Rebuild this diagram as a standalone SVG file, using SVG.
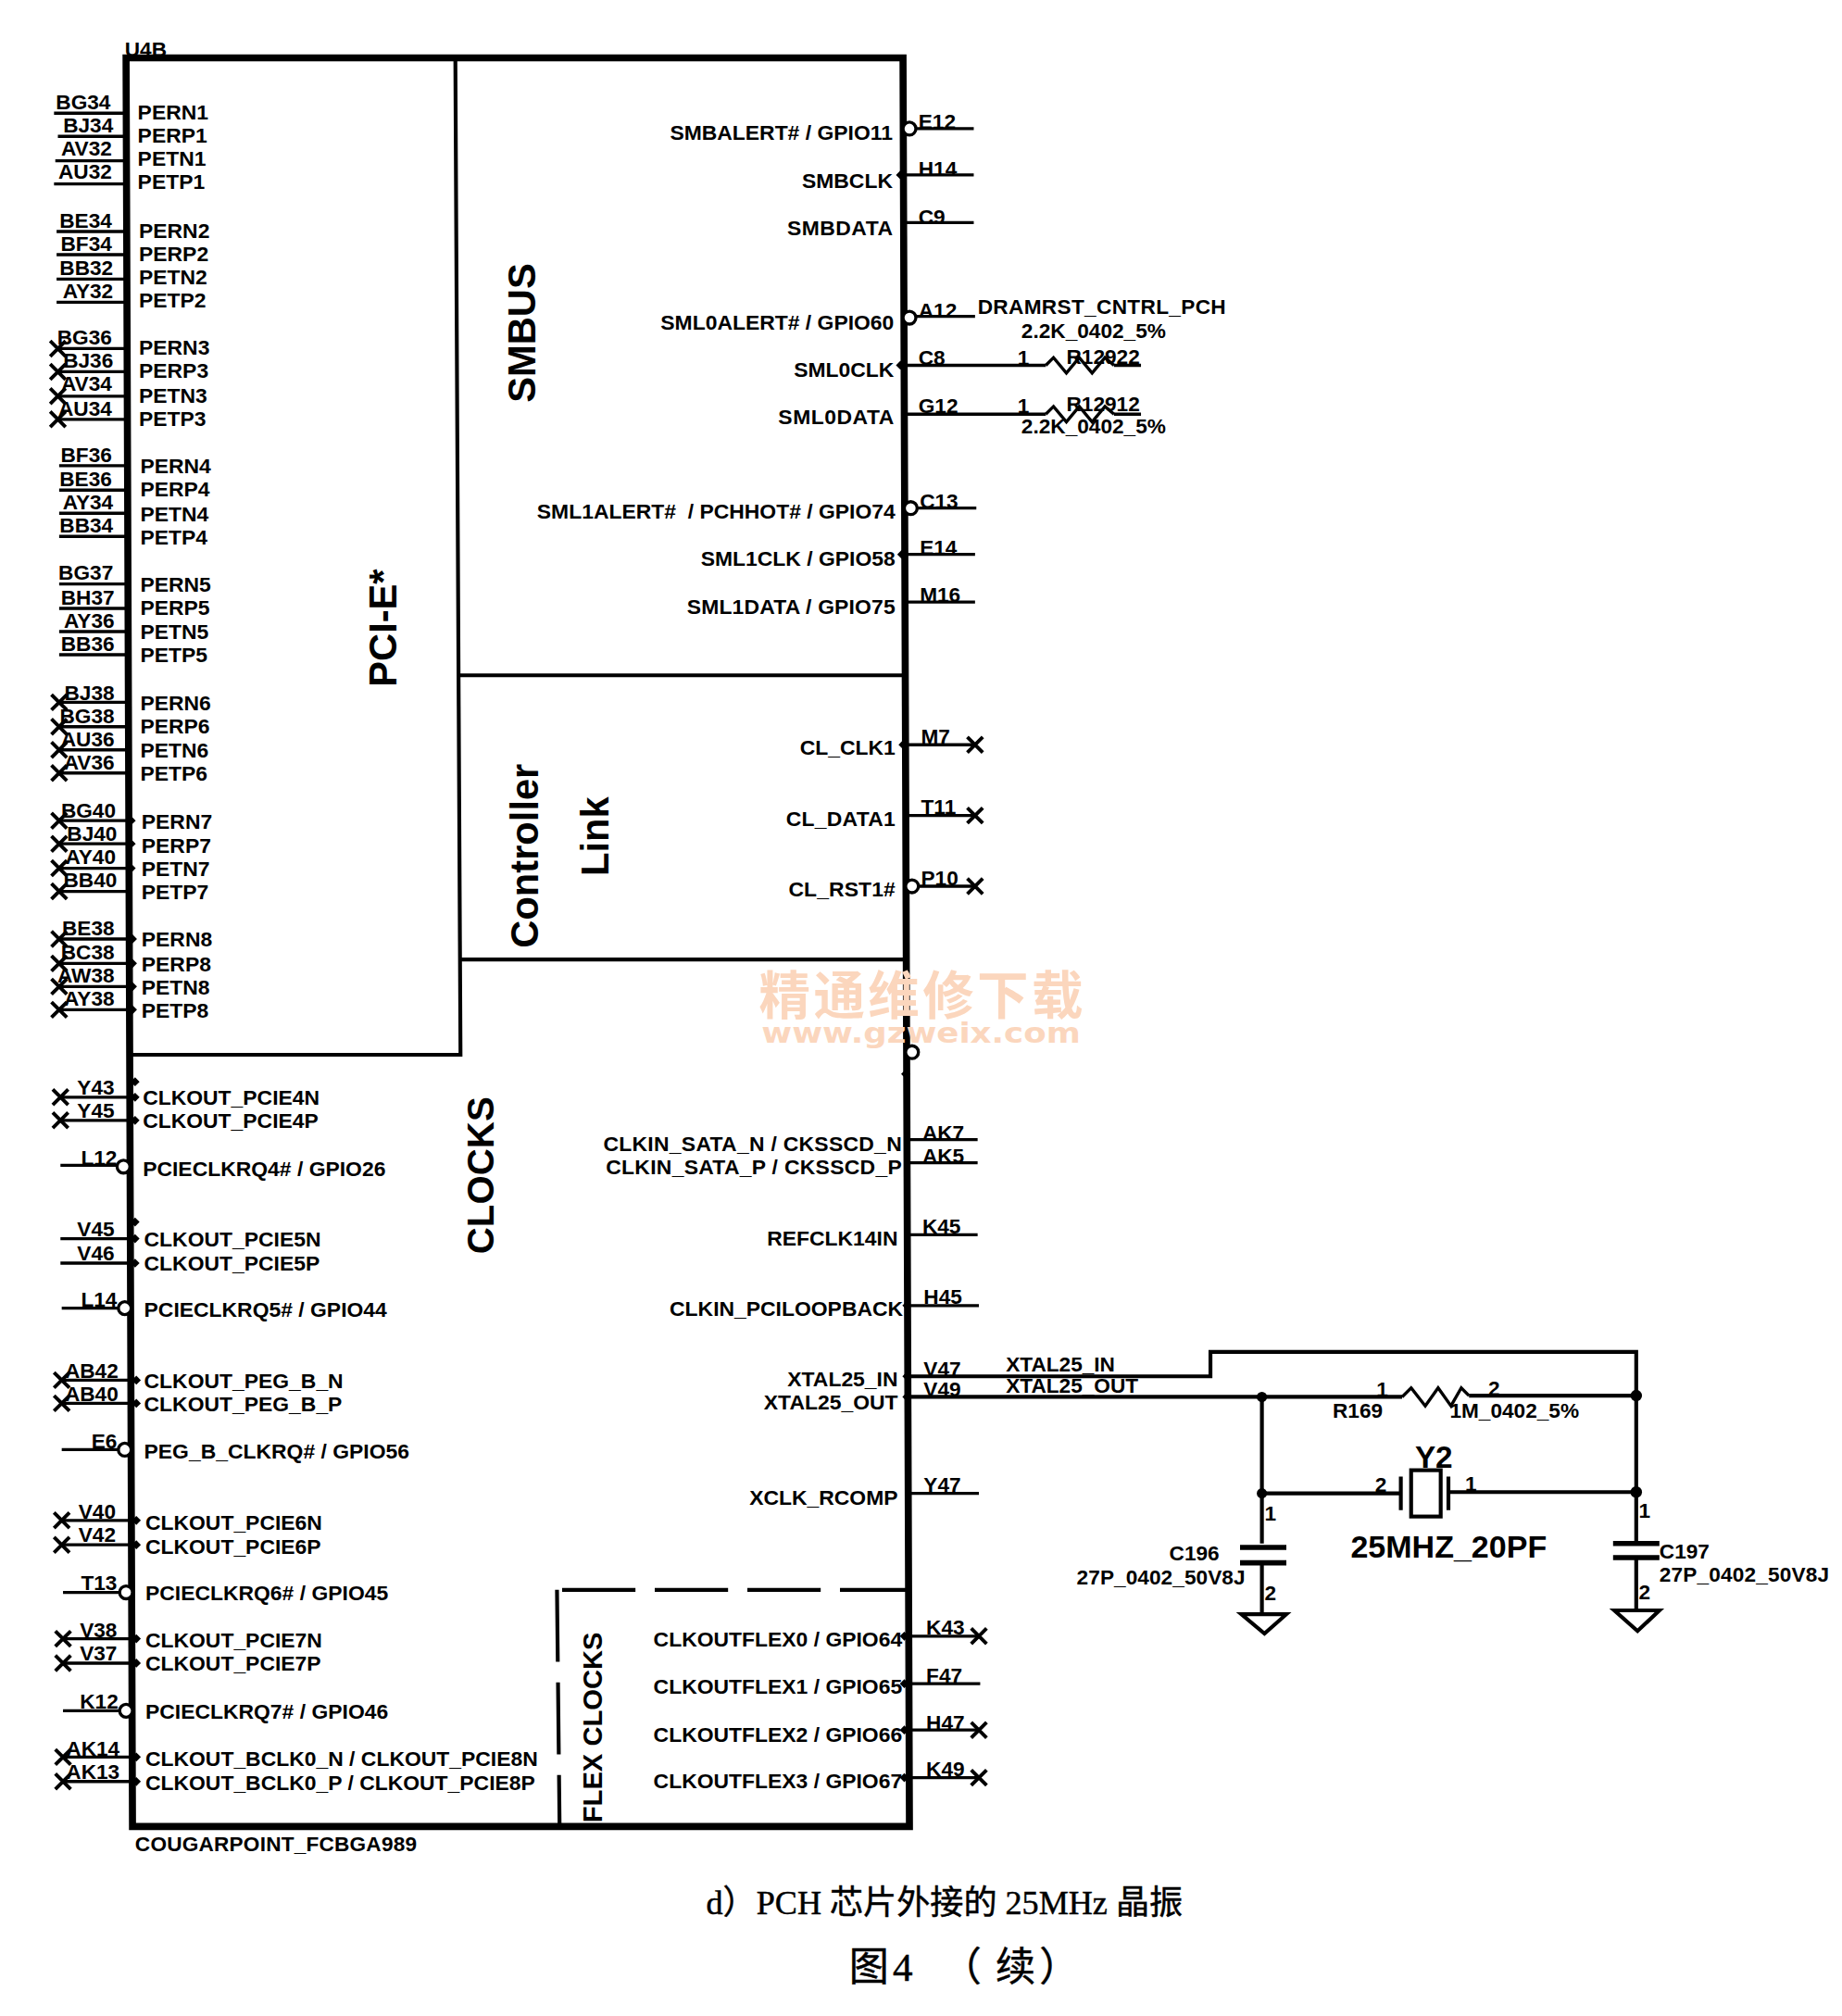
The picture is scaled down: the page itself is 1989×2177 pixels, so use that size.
<svg xmlns="http://www.w3.org/2000/svg" width="1989" height="2177" viewBox="0 0 1989 2177">
<style>
text{font-family:"Liberation Sans","Noto Sans CJK SC",sans-serif;font-weight:700;fill:#000;white-space:pre}
.p{font-size:16.5px}
.e{text-anchor:end}
.n{font-size:16.3px;text-anchor:end}
.m{font-size:16.3px}
.s{font-size:30px}
.w{fill:none;stroke:#000;stroke-width:2.4}
.b{fill:none;stroke:#000;stroke-width:3}
.f{fill:none;stroke:#000;stroke-width:5.5}
.o{fill:#fff;stroke:#000;stroke-width:2.4}
.c{font-family:"Liberation Serif","Noto Sans CJK SC",serif;font-weight:400;stroke:#000;stroke-width:.35}
.wm{fill:#fbd6bd;font-weight:700}
</style>
<defs>
<path id="x" d="M-6-6L6 6M-6 6L6-6" fill="none" stroke="#000" stroke-width="2.8"/>
<path id="d" d="M-3.5 0L0-3.5L3.5 0L0 3.5Z" fill="#000"/>
</defs>
<rect width="1989" height="2177" fill="#fff"/>
<g transform="scale(1.389)">
<g id="connectors">
<path class="w" d="M42 88H98M45 106H98M43 125H98M42 143H98M44 180H98M44 198H98M44 217H98M44 235H98M45 271H99M45 289H99M45 308H99M45 326H99M46 362H99M46 381H99M46 399H99M46 417H99M46 454H100M46 473H100M46 491H100M46 509H100M46 546H100M46 565H100M46 583H100M46 601H100M46 638H101M46 656H101M46 675H101M46 693H101M46 730H102M46 749H102M46 767H102M46 785H102"/>
<path class="w" d="M47 853H103M47 871H103M47 906H91M47 963H103M47 982H103M48 1017H92M48 1073H103M48 1091H103M48 1127H92M48 1182H103M48 1201H103M49 1238H93M49 1274H104M49 1293H104M49 1330H93M49 1366H104M49 1385H104"/>
<path class="w" d="M712 100H757M703 136H757M703 173H757M712 246H758M703 284H813M703 322H813M866 284H887M866 322H887M713 395H759M704 431H758M704 468H758M704 579H758M704 634H758M714 689H758M706 886H760M706 904H760M706 960H760M706 1015H761M706 1272H761M706 1309H762M706 1345H761M706 1382H761M706 1161H761"/>
<path class="b" d="M706 1070H941V1051H1272V1199M706 1086H1090M1142 1085H1272M981 1086V1200M981 1161H1089M1126 1160H1272M981 1216V1255M1272 1212V1252"/>
<use href="#x" x="45" y="271"/><use href="#x" x="45" y="289"/><use href="#x" x="45" y="308"/><use href="#x" x="45" y="326"/>
<use href="#x" x="46" y="546"/><use href="#x" x="46" y="565"/><use href="#x" x="46" y="583"/><use href="#x" x="46" y="601"/>
<use href="#x" x="46" y="638"/><use href="#x" x="46" y="656"/><use href="#x" x="46" y="675"/><use href="#x" x="46" y="693"/>
<use href="#x" x="46" y="730"/><use href="#x" x="46" y="749"/><use href="#x" x="46" y="767"/><use href="#x" x="46" y="785"/>
<use href="#x" x="47" y="853"/><use href="#x" x="47" y="871"/><use href="#x" x="48" y="1073"/><use href="#x" x="48" y="1091"/><use href="#x" x="48" y="1182"/><use href="#x" x="48" y="1201"/><use href="#x" x="49" y="1274"/><use href="#x" x="49" y="1293"/><use href="#x" x="49" y="1366"/><use href="#x" x="49" y="1385"/>
<use href="#x" x="758" y="579"/><use href="#x" x="758" y="634"/><use href="#x" x="758" y="689"/><use href="#x" x="761" y="1272"/><use href="#x" x="761" y="1345"/><use href="#x" x="761" y="1382"/>
<circle cx="981" cy="1086" r="4"/><circle cx="981" cy="1161" r="4"/><circle cx="1272" cy="1085" r="4.5"/><circle cx="1272" cy="1160" r="4.5"/>
</g>
<g id="U4B">
<path class="f" d="M98 45H702L707 1420H103Z"/>
<path class="b" d="M354 47L358 820H103M355 525H702M358 746H703"/>
<path class="b" stroke-dasharray="57 15" d="M437 1236H705"/>
<path class="b" stroke-dasharray="56 16" d="M433 1236L435 1418"/>
<use href="#d" x="105" y="853"/><use href="#d" x="105" y="871"/><use href="#d" x="105" y="841"/><use href="#d" x="105" y="950"/><use href="#d" x="105" y="963"/><use href="#d" x="105" y="982"/><use href="#d" x="106" y="1073"/><use href="#d" x="106" y="1091"/><use href="#d" x="106" y="1182"/><use href="#d" x="106" y="1201"/><use href="#d" x="106" y="1274"/><use href="#d" x="106" y="1293"/><use href="#d" x="106" y="1366"/><use href="#d" x="106" y="1385"/>
<use href="#d" x="102" y="638"/><use href="#d" x="102" y="656"/><use href="#d" x="102" y="675"/><use href="#d" x="103" y="730"/><use href="#d" x="103" y="749"/><use href="#d" x="103" y="767"/><use href="#d" x="103" y="785"/>
<use href="#d" x="700" y="136"/><use href="#d" x="700" y="284"/><use href="#d" x="701" y="431"/><use href="#d" x="702" y="579"/><use href="#d" x="704" y="835"/><use href="#d" x="705" y="1015"/><use href="#d" x="705" y="1070"/><use href="#d" x="705" y="1086"/><use href="#d" x="703" y="1272"/><use href="#d" x="703" y="1309"/><use href="#d" x="703" y="1345"/><use href="#d" x="703" y="1382"/>
<circle class="o" cx="707" cy="100" r="5"/><circle class="o" cx="707" cy="247" r="5"/><circle class="o" cx="708" cy="395" r="5"/><circle class="o" cx="709" cy="689" r="5"/><circle class="o" cx="709" cy="818" r="5"/>
<circle class="o" cx="96" cy="907" r="5"/><circle class="o" cx="97" cy="1017" r="5"/><circle class="o" cx="97" cy="1127" r="5"/><circle class="o" cx="98" cy="1238" r="5"/><circle class="o" cx="98" cy="1330" r="5"/>
<text class="m" x="97" y="44">U4B</text>
<text class="m" x="105" y="1439" textLength="219">COUGARPOINT_FCBGA989</text>
<text class="s" transform="translate(308 534) rotate(-90)">PCI-E*</text>
<text class="s" transform="translate(416 313) rotate(-90)">SMBUS</text>
<text class="s" transform="translate(418 737) rotate(-90)">Controller</text>
<text class="s" transform="translate(473 681) rotate(-90)">Link</text>
<text class="s" transform="translate(384 975) rotate(-90)" style="font-size:29px">CLOCKS</text>
<text transform="translate(468 1417) rotate(-90)" style="font-size:21px">FLEX CLOCKS</text>
<g class="p">
<text x="107" y="93">PERN1</text><text x="107" y="111">PERP1</text><text x="107" y="129">PETN1</text><text x="107" y="147">PETP1</text>
<text x="108" y="185">PERN2</text><text x="108" y="203">PERP2</text><text x="108" y="221">PETN2</text><text x="108" y="239">PETP2</text>
<text x="108" y="276">PERN3</text><text x="108" y="294">PERP3</text><text x="108" y="313">PETN3</text><text x="108" y="331">PETP3</text>
<text x="109" y="368">PERN4</text><text x="109" y="386">PERP4</text><text x="109" y="405">PETN4</text><text x="109" y="423">PETP4</text>
<text x="109" y="460">PERN5</text><text x="109" y="478">PERP5</text><text x="109" y="497">PETN5</text><text x="109" y="515">PETP5</text>
<text x="109" y="552">PERN6</text><text x="109" y="570">PERP6</text><text x="109" y="589">PETN6</text><text x="109" y="607">PETP6</text>
<text x="110" y="644">PERN7</text><text x="110" y="663">PERP7</text><text x="110" y="681">PETN7</text><text x="110" y="699">PETP7</text>
<text x="110" y="736">PERN8</text><text x="110" y="755">PERP8</text><text x="110" y="773">PETN8</text><text x="110" y="791">PETP8</text>
<text x="111" y="859">CLKOUT_PCIE4N</text><text x="111" y="877">CLKOUT_PCIE4P</text><text x="111" y="914">PCIECLKRQ4# / GPIO26</text>
<text x="112" y="969">CLKOUT_PCIE5N</text><text x="112" y="988">CLKOUT_PCIE5P</text><text x="112" y="1024">PCIECLKRQ5# / GPIO44</text>
<text x="112" y="1079">CLKOUT_PEG_B_N</text><text x="112" y="1097">CLKOUT_PEG_B_P</text><text x="112" y="1134">PEG_B_CLKRQ# / GPIO56</text>
<text x="113" y="1189">CLKOUT_PCIE6N</text><text x="113" y="1208">CLKOUT_PCIE6P</text><text x="113" y="1244">PCIECLKRQ6# / GPIO45</text>
<text x="113" y="1281">CLKOUT_PCIE7N</text><text x="113" y="1299">CLKOUT_PCIE7P</text><text x="113" y="1336">PCIECLKRQ7# / GPIO46</text>
<text x="113" y="1373">CLKOUT_BCLK0_N / CLKOUT_PCIE8N</text><text x="113" y="1392">CLKOUT_BCLK0_P / CLKOUT_PCIE8P</text>
<text class="e" x="694" y="109">SMBALERT# / GPIO11</text><text class="e" x="694" y="146">SMBCLK</text><text class="e" x="694" y="183" textLength="82">SMBDATA</text>
<text class="e" x="695" y="256">SML0ALERT# / GPIO60</text><text class="e" x="695" y="293">SML0CLK</text><text class="e" x="695" y="330" textLength="90">SML0DATA</text>
<text class="e" x="696" y="403">SML1ALERT#  / PCHHOT# / GPIO74</text><text class="e" x="696" y="440">SML1CLK / GPIO58</text><text class="e" x="696" y="477" textLength="162">SML1DATA / GPIO75</text>
<text class="e" x="696" y="587">CL_CLK1</text><text class="e" x="696" y="642" textLength="85">CL_DATA1</text><text class="e" x="696" y="697" textLength="83">CL_RST1#</text>
<text class="e" x="701" y="895" textLength="232">CLKIN_SATA_N / CKSSCD_N</text><text class="e" x="701" y="913" textLength="230">CLKIN_SATA_P / CKSSCD_P</text>
<text class="e" x="698" y="968">REFCLK14IN</text><text class="e" x="702" y="1023">CLKIN_PCILOOPBACK</text>
<text class="e" x="698" y="1078">XTAL25_IN</text><text class="e" x="698" y="1096">XTAL25_OUT</text><text class="e" x="698" y="1170">XCLK_RCOMP</text>
<text x="508" y="1280">CLKOUTFLEX0 / GPIO64</text><text x="508" y="1317">CLKOUTFLEX1 / GPIO65</text><text x="508" y="1354">CLKOUTFLEX2 / GPIO66</text><text x="508" y="1390">CLKOUTFLEX3 / GPIO67</text>
</g>
<g class="n">
<text class="n" x="86" y="85">BG34</text><text class="n" x="88" y="103">BJ34</text><text class="n" x="87" y="121">AV32</text><text class="n" x="87" y="139">AU32</text>
<text class="n" x="87" y="177">BE34</text><text class="n" x="87" y="195">BF34</text><text class="n" x="88" y="214">BB32</text><text class="n" x="88" y="232">AY32</text>
<text class="n" x="87" y="268">BG36</text><text class="n" x="88" y="286">BJ36</text><text class="n" x="87" y="304">AV34</text><text class="n" x="87" y="323">AU34</text>
<text class="n" x="87" y="359">BF36</text><text class="n" x="87" y="378">BE36</text><text class="n" x="88" y="396">AY34</text><text class="n" x="88" y="414">BB34</text>
<text class="n" x="88" y="451">BG37</text><text class="n" x="89" y="470">BH37</text><text class="n" x="89" y="488">AY36</text><text class="n" x="89" y="506">BB36</text>
<text class="n" x="89" y="544">BJ38</text><text class="n" x="89" y="562">BG38</text><text class="n" x="89" y="580">AU36</text><text class="n" x="89" y="598">AV36</text>
<text class="n" x="90" y="636">BG40</text><text class="n" x="91" y="654">BJ40</text><text class="n" x="90" y="672">AY40</text><text class="n" x="91" y="690">BB40</text>
<text class="n" x="89" y="727">BE38</text><text class="n" x="89" y="746">BC38</text><text class="n" x="89" y="764">AW38</text><text class="n" x="89" y="782">AY38</text>
<text class="n" x="89" y="851">Y43</text><text class="n" x="89" y="869">Y45</text><text class="n" x="91" y="906">L12</text>
<text class="n" x="89" y="961">V45</text><text class="n" x="89" y="980">V46</text><text class="n" x="91" y="1016">L14</text>
<text class="n" x="92" y="1071">AB42</text><text class="n" x="92" y="1089">AB40</text><text class="n" x="91" y="1126">E6</text>
<text class="n" x="90" y="1181">V40</text><text class="n" x="90" y="1199">V42</text><text class="n" x="91" y="1236">T13</text>
<text class="n" x="91" y="1273">V38</text><text class="n" x="91" y="1291">V37</text><text class="n" x="92" y="1328">K12</text>
<text class="n" x="93" y="1365">AK14</text><text class="n" x="93" y="1383">AK13</text>
</g>
<g class="m">
<text x="714" y="100">E12</text><text x="714" y="137">H14</text><text x="714" y="174">C9</text><text x="714" y="247">A12</text><text x="714" y="284">C8</text><text x="714" y="321">G12</text>
<text x="715" y="395">C13</text><text x="715" y="431">E14</text><text x="715" y="468">M16</text>
<text x="716" y="578">M7</text><text x="716" y="633">T11</text><text x="716" y="688">P10</text>
<text x="717" y="886">AK7</text><text x="717" y="904">AK5</text><text x="717" y="959">K45</text><text x="718" y="1014">H45</text><text x="718" y="1070">V47</text><text x="718" y="1086">V49</text><text x="718" y="1160">Y47</text>
<text x="720" y="1271">K43</text><text x="720" y="1308">F47</text><text x="720" y="1345">H47</text><text x="720" y="1381">K49</text>
<text x="760" y="244" textLength="193">DRAMRST_CNTRL_PCH</text>
<text x="782" y="1066">XTAL25_IN</text><text x="782" y="1083">XTAL25_OUT</text>
</g>
</g>
<g id="R1292" class="m">
<path class="w" d="M813 284L819 278L829 290L839 278L849 290L859 278L866 284"/>
<text x="791" y="284">1</text><text x="829" y="283">R1292</text><text x="877" y="283">2</text><text x="794" y="263">2.2K_0402_5%</text>
</g>
<g id="R1291" class="m">
<path class="w" d="M813 322L819 316L829 328L839 316L849 328L859 316L866 322"/>
<text x="791" y="321">1</text><text x="829" y="320">R1291</text><text x="877" y="320">2</text><text x="794" y="337">2.2K_0402_5%</text>
</g>
<g id="R169" class="m">
<path class="w" d="M1090 1086L1097 1079L1108 1093L1118 1079L1128 1093L1136 1079L1142 1085"/>
<text x="1070" y="1086">1</text><text x="1157" y="1085">2</text><text x="1036" y="1102">R169</text><text x="1127" y="1102">1M_0402_5%</text>
</g>
<g id="Y2">
<path class="b" d="M1089 1148V1174M1126 1148V1174"/>
<rect class="b" x="1097" y="1143" width="23" height="36"/>
<text class="m" x="1069" y="1160">2</text><text class="m" x="1139" y="1159">1</text>
<text x="1100" y="1141" style="font-size:24px">Y2</text>
<text x="1050" y="1211" style="font-size:24.5px">25MHZ_20PF</text>
</g>
<g id="C196">
<path class="f" style="stroke-width:4" d="M964 1203H1000M964 1215H1000"/>
<text class="m" x="983" y="1182">1</text><text class="m" x="983" y="1244">2</text>
<text class="m" x="909" y="1213">C196</text><text class="m" x="837" y="1232" textLength="131">27P_0402_50V8J</text>
</g>
<g id="C197">
<path class="f" style="stroke-width:4" d="M1254 1200H1290M1254 1211H1290"/>
<text class="m" x="1274" y="1180">1</text><text class="m" x="1274" y="1243">2</text>
<text class="m" x="1290" y="1212">C197</text><text class="m" x="1290" y="1230" textLength="132">27P_0402_50V8J</text>
</g>
<g id="GND1"><path class="b" d="M965 1255H1000L983 1270Z"/></g>
<g id="GND2"><path class="b" d="M1255 1252H1290L1273 1268Z"/></g>
<g id="watermark">
<text class="wm" x="590" y="788" textLength="252" style="font-family:'Noto Sans CJK SC',sans-serif;font-size:40px">精通维修下载</text>
<text class="wm" x="592" y="811" textLength="248" lengthAdjust="spacingAndGlyphs" style="font-family:'DejaVu Sans',sans-serif;font-size:22px">www.gzweix.com</text>
</g>
<g id="caption">
<text class="c" x="549" y="1488" style="font-size:26px">d）PCH 芯片外接的 25MHz 晶振</text>
<text class="c" x="660" y="1540" style="font-size:31px">图<tspan dx="3">4</tspan><tspan x="732">（</tspan><tspan x="774">续</tspan><tspan x="808">）</tspan></text>
</g>
</g>
</svg>
